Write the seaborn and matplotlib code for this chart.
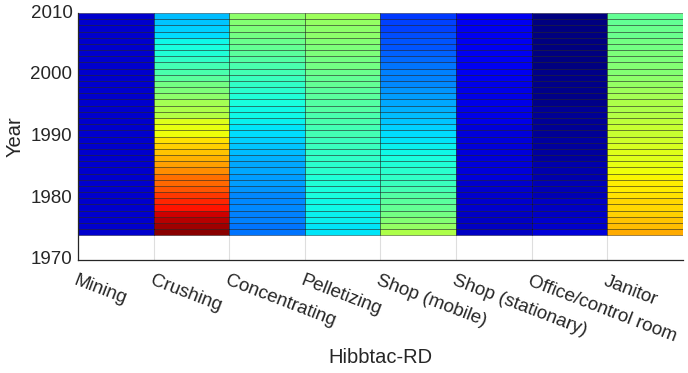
import numpy as np
import pandas as pd
import matplotlib
matplotlib.use("Agg")
import matplotlib.pyplot as plt
import seaborn as sns

# categories on the x axis
jobs = ["Mining", "Crushing", "Concentrating", "Pelletizing", "Shop (mobile)",
        "Shop (stationary)", "Office/control room", "Janitor"]

# one row per year, 1974 .. 2009 (top edge of last row = 2010)
years = list(range(1974, 2010))

# relative exposure values (0..1 on the jet scale), bottom row = 1974
mining = [0.07] * 36
crushing = [0.99, 0.97, 0.95, 0.93, 0.89, 0.87, 0.85, 0.82, 0.80, 0.79, 0.76, 0.74,
            0.72, 0.70, 0.69, 0.67, 0.64, 0.63, 0.62, 0.57, 0.56, 0.55, 0.52, 0.50,
            0.49, 0.46, 0.44, 0.43, 0.41, 0.39, 0.38, 0.37, 0.34, 0.33, 0.32, 0.31]
concentrating = [0.24, 0.24, 0.25, 0.25, 0.26, 0.26, 0.26, 0.27, 0.28, 0.28, 0.29, 0.29,
                 0.30, 0.31, 0.32, 0.33, 0.34, 0.35, 0.36, 0.37, 0.37, 0.38, 0.39, 0.40,
                 0.41, 0.42, 0.43, 0.44, 0.45, 0.46, 0.47, 0.48, 0.49, 0.50, 0.51, 0.52]
pelletizing = [0.35, 0.35, 0.36, 0.36, 0.37, 0.37, 0.38, 0.38, 0.39, 0.39, 0.40, 0.40,
               0.41, 0.41, 0.42, 0.42, 0.43, 0.43, 0.44, 0.44, 0.45, 0.45, 0.46, 0.46,
               0.47, 0.47, 0.48, 0.49, 0.49, 0.50, 0.50, 0.51, 0.52, 0.52, 0.53, 0.54]
shop_mobile = [0.56, 0.53, 0.51, 0.49, 0.47, 0.46, 0.45, 0.43, 0.42, 0.41, 0.40, 0.39,
               0.38, 0.37, 0.36, 0.35, 0.34, 0.33, 0.32, 0.31, 0.30, 0.29, 0.28, 0.27,
               0.26, 0.25, 0.25, 0.24, 0.23, 0.22, 0.21, 0.21, 0.20, 0.19, 0.19, 0.18]
shop_stationary = [0.06, 0.06, 0.06, 0.06, 0.07, 0.07, 0.07, 0.07, 0.07, 0.08, 0.08, 0.08,
                   0.08, 0.08, 0.08, 0.08, 0.08, 0.08, 0.09, 0.09, 0.09, 0.09, 0.09, 0.09,
                   0.09, 0.10, 0.10, 0.10, 0.10, 0.10, 0.10, 0.10, 0.10, 0.10, 0.10, 0.10]
office = [0.08, 0.07, 0.07, 0.06, 0.06, 0.06, 0.05, 0.05, 0.05, 0.04, 0.04, 0.04,
          0.03, 0.03, 0.03, 0.03, 0.02, 0.02, 0.02, 0.02, 0.02, 0.01, 0.01, 0.01,
          0.01, 0.01, 0.01, 0.00, 0.00, 0.00, 0.00, 0.00, 0.00, 0.00, 0.00, 0.00]
janitor = [0.73, 0.71, 0.70, 0.69, 0.68, 0.68, 0.67, 0.66, 0.66, 0.65, 0.64, 0.63,
           0.62, 0.62, 0.61, 0.60, 0.59, 0.59, 0.58, 0.57, 0.56, 0.56, 0.55, 0.54,
           0.53, 0.52, 0.51, 0.51, 0.50, 0.50, 0.49, 0.49, 0.48, 0.48, 0.47, 0.47]

year_ticks = [1970, 1980, 1990, 2000, 2010]

df = pd.DataFrame({
    jobs[0]: mining, jobs[1]: crushing, jobs[2]: concentrating, jobs[3]: pelletizing,
    jobs[4]: shop_mobile, jobs[5]: shop_stationary, jobs[6]: office, jobs[7]: janitor,
}, index=years)

sns.set_style("white")
plt.rcParams["font.family"] = ["Liberation Sans", "DejaVu Sans"]

fig = plt.figure(figsize=(6.88, 3.73), dpi=100)
ax = fig.add_axes([0.1134, 0.303, 0.8793, 0.662])

ax.grid(axis="x", color="#dedede", linewidth=0.8)
ax.set_axisbelow(True)

sns.heatmap(df, ax=ax, cmap="jet", vmin=0, vmax=1, cbar=False,
            linewidths=0.6, linecolor=(0, 0, 0, 0.45), antialiased=True)

# years axis runs upward from 1970
ax.set_ylim(year_ticks[0] - years[0], year_ticks[-1] - years[0])
ax.set_yticks([y - years[0] for y in year_ticks])
ax.set_yticklabels([str(y) for y in year_ticks], rotation=0, fontsize=13.5)

ax.set_xlim(0, len(jobs))
ax.set_xticks(range(len(jobs)))
ax.set_xticklabels(jobs, rotation=-21, ha="left", va="top",
                   rotation_mode="anchor", fontsize=13.5)
ax.tick_params(axis="y", length=0, pad=4, colors="#262626")
ax.tick_params(axis="x", length=0, pad=9, colors="#262626")
ax.grid(axis="x", color="#dedede", linewidth=0.8)

for side in ["left", "bottom"]:
    ax.spines[side].set_visible(True)
    ax.spines[side].set_color("#262626")
    ax.spines[side].set_linewidth(0.9)

ax.set_xlabel("Hibbtac-RD", fontsize=14.5, color="#262626", labelpad=2)
ax.set_ylabel("Year", fontsize=14.5, color="#262626", labelpad=4)

fig.savefig("out.png", dpi=100)
